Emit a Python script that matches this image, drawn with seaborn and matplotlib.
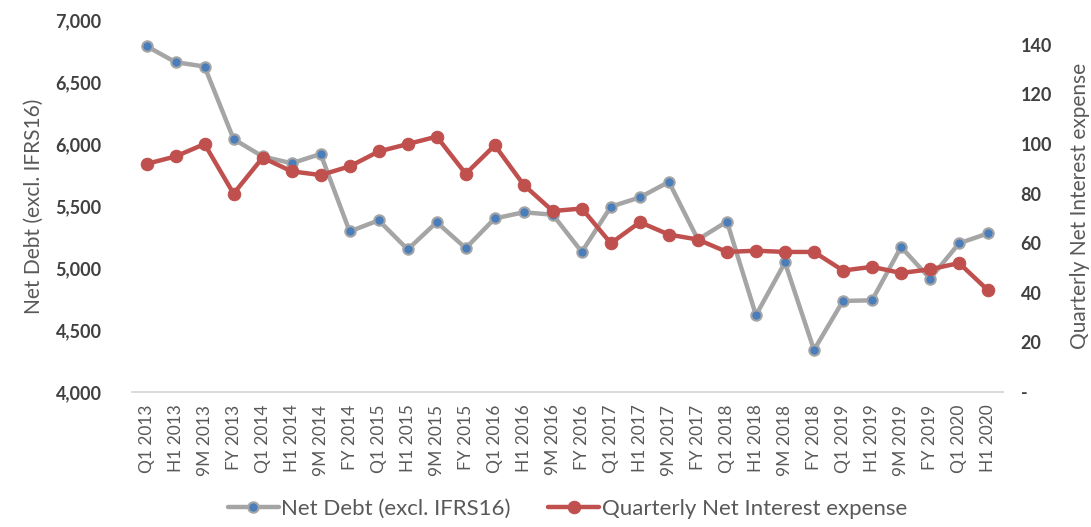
import numpy as np
import pandas as pd
import matplotlib
matplotlib.use("Agg")
import matplotlib.pyplot as plt
import seaborn as sns

periods = ["Q1 2013", "H1 2013", "9M 2013", "FY 2013",
           "Q1 2014", "H1 2014", "9M 2014", "FY 2014",
           "Q1 2015", "H1 2015", "9M 2015", "FY 2015",
           "Q1 2016", "H1 2016", "9M 2016", "FY 2016",
           "Q1 2017", "H1 2017", "9M 2017", "FY 2017",
           "Q1 2018", "H1 2018", "9M 2018", "FY 2018",
           "Q1 2019", "H1 2019", "9M 2019", "FY 2019",
           "Q1 2020", "H1 2020"]
net_debt = [6790, 6660, 6625, 6040,
            5900, 5845, 5920, 5295,
            5385, 5150, 5370, 5160,
            5400, 5450, 5430, 5130,
            5495, 5570, 5695, 5230,
            5375, 4620, 5045, 4340,
            4735, 4740, 5170, 4915,
            5200, 5280]
interest = [92, 95, 100, 80,
            94.5, 89, 87.5, 91,
            97, 100, 103, 88,
            99.5, 83.5, 73, 74,
            60, 68.5, 63.5, 61.5,
            56.5, 57, 56.5, 56.5,
            49, 50.5, 48, 49.5,
            52, 41]

df = pd.DataFrame({"period": periods, "debt": net_debt, "interest": interest})

sns.set_style("white")
plt.rcParams["font.family"] = ["Lato", "DejaVu Sans"]

grey_line = "#a5a5a5"
blue_dot = "#4a7ebb"
red = "#c0504d"
txt = "#595959"

fig = plt.figure(figsize=(10.91, 5.27), dpi=100)
ax = fig.add_axes([0.121, 0.256, 0.798, 0.706])
ax2 = ax.twinx()

sns.lineplot(data=df, x="period", y="debt", ax=ax, sort=False, color=grey_line,
             linewidth=3.2, marker="o", markersize=7.5, markerfacecolor=blue_dot,
             markeredgecolor=grey_line, markeredgewidth=1.5, zorder=3,
             label="Net Debt (excl. IFRS16)", legend=False)
sns.lineplot(data=df, x="period", y="interest", ax=ax2, sort=False, color=red,
             linewidth=3.2, marker="o", markersize=9, markerfacecolor=red,
             markeredgecolor=red, zorder=3,
             label="Quarterly Net Interest expense", legend=False)

ax.set_xlim(-0.5, len(periods) - 0.5)
ax.set_ylim(4000, 7000)
ax.set_yticks(np.arange(4000, 7001, 500))
ax.set_yticklabels([f"{v:,}" for v in range(4000, 7001, 500)])
ax2.set_ylim(0, 150)
ax2.set_yticks(np.arange(0, 141, 20))
ax2.set_yticklabels(["-"] + [str(v) for v in range(20, 141, 20)], ha="left")

ax.set_xticks(range(len(periods)))
ax.set_xticklabels(periods, rotation=90, color=txt, fontsize=12.5)
for lab in ax.get_yticklabels() + ax2.get_yticklabels():
    lab.set_fontweight("bold")
    lab.set_color("#404040")
    lab.set_fontsize(13)

ax.tick_params(axis="both", length=0)
ax.tick_params(axis="y", pad=22)
ax.tick_params(axis="x", pad=9)
ax2.tick_params(axis="y", length=0, pad=13)

ax.set_xlabel("")
ax.set_ylabel("Net Debt (excl. IFRS16)", color=txt, fontsize=15, labelpad=8)
ax2.set_ylabel("Quarterly Net Interest expense", color=txt, fontsize=15, labelpad=13)

for a in (ax, ax2):
    for side in ("top", "left", "right"):
        a.spines[side].set_visible(False)
    a.spines["bottom"].set_color("#d9d9d9")
    a.spines["bottom"].set_linewidth(1.2)
    a.grid(False)

h1, l1 = ax.get_legend_handles_labels()
h2, l2 = ax2.get_legend_handles_labels()
fig.legend(h1 + h2, l1 + l2, loc="lower center", bbox_to_anchor=(0.52, -0.022),
           ncol=2, frameon=False, fontsize=16, labelcolor=txt,
           handlelength=2.3, handletextpad=0.1, columnspacing=1.7)

fig.savefig("out.png", dpi=100)
